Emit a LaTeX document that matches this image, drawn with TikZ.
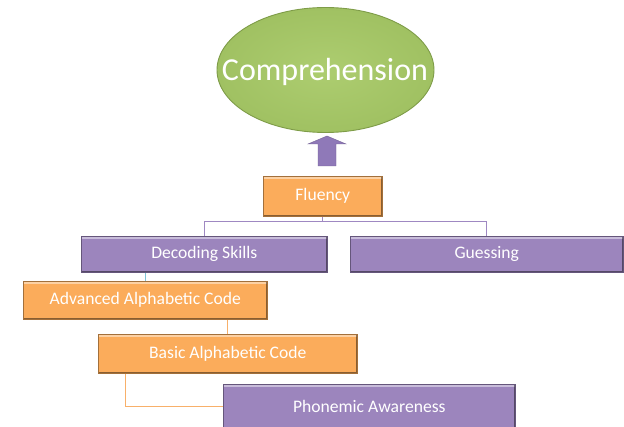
\documentclass[tikz,border=0pt]{standalone}
\usepackage{fontspec}
\setmainfont{Carlito}
\usetikzlibrary{shapes.geometric,calc}
\definecolor{orfill}{HTML}{FBAC5B}
\definecolor{orline}{HTML}{F8B06A}
\definecolor{pufill}{HTML}{9C85BD}
\definecolor{puline}{HTML}{9F88C2}
\definecolor{blline}{HTML}{7EC4D8}
\definecolor{grin}{HTML}{ADCD70}
\definecolor{grout}{HTML}{A0C162}
\definecolor{grrim}{HTML}{7E9C48}
\definecolor{arfill}{HTML}{8F79B8}
\tikzset{
  bx/.style={rectangle, anchor=north west, draw=#1!65!black, fill=#1, line width=0.6pt,
    text=white, font=\fontsize{17.6}{20}\selectfont, inner sep=0pt,
    path picture={
      \draw[white, opacity=0.45, line width=1.6pt]
        ([yshift=-1.8pt]path picture bounding box.north west) -- ([yshift=-1.8pt]path picture bounding box.north east);
      \draw[black, opacity=0.45, line width=2.4pt]
        (path picture bounding box.north east) -- (path picture bounding box.south east) -- (path picture bounding box.south west);
    }},
  conn/.style={line width=0.9pt}
}
\begin{document}
\begin{tikzpicture}[x=1pt,y=-1pt]
\useasboundingbox (0,0) rectangle (624,427);
% ellipse
\node[ellipse, minimum width=217pt, minimum height=125pt, inner sep=0pt,
  inner color=grin, outer color=grout, draw=grrim, line width=0.9pt] (comp) at (325.5,70) {};
\node[text=white, font=\fontsize{32}{36}\selectfont, inner sep=0pt] (compt) at (325,72) {Comprehension};
% boxes
\node[bx=orfill, minimum width=119pt, minimum height=40pt] (fl) at (263,176) {Fluency};
\node[bx=pufill, minimum width=246pt, minimum height=36pt] (dec) at (81,236) {Decoding Skills};
\node[bx=pufill, minimum width=273pt, minimum height=36pt] (gu) at (350,236) {Guessing};
\node[bx=orfill, minimum width=244pt, minimum height=38pt] (adv) at (23,281) {Advanced Alphabetic Code};
\node[bx=orfill, minimum width=259pt, minimum height=39pt] (bas) at (98,334) {Basic Alphabetic Code};
\node[bx=pufill, minimum width=292pt, minimum height=44pt] (ph) at (223,384) {Phonemic Awareness};
% arrow
\draw[fill=arfill, draw=arfill!80!black, line width=0.4pt]
  (318,166) -- (318,144) -- (308,144) -- (327,136) -- (346,144) -- (336,144) -- (336,166) -- cycle;
% connectors
\coordinate (fj) at ($(fl.south)+(0,5)$);
\draw[conn, puline] (fl.south) -- (fj) -| (dec.north);
\draw[conn, puline] (fj) -| (gu.north);
\draw[conn, blline] (adv.north) -- (adv.north |- dec.south);
\draw[conn, orline] (bas.north) -- (bas.north |- adv.south);
\draw[conn, orline] ([xshift=27pt]bas.south west) |- (ph.west);
\end{tikzpicture}
\end{document}
